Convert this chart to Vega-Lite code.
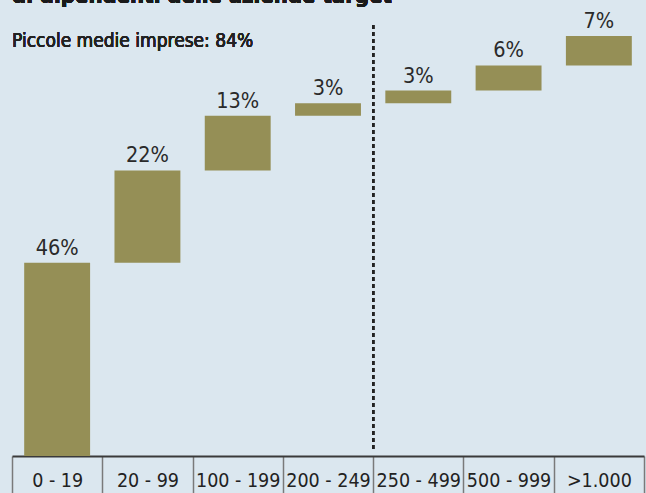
{
  "$schema": "https://vega.github.io/schema/vega-lite/v6.json",
  "autosize": "none",
  "width": 632,
  "height": 456,
  "padding": {"left": 12, "top": 0, "right": 2, "bottom": 37},
  "background": "#dbe7ef",
  "config": {
    "view": {"stroke": null},
    "font": "DejaVu Sans Condensed, sans-serif"
  },
  "data": {
    "values": [
      {"cat": "0 - 19", "start": 0, "end": 46, "label": "46%"},
      {"cat": "20 - 99", "start": 46, "end": 68, "label": "22%"},
      {"cat": "100 - 199", "start": 68, "end": 81, "label": "13%"},
      {"cat": "200 - 249", "start": 81, "end": 84, "label": "3%"},
      {"cat": "250 - 499", "start": 84, "end": 87, "label": "3%"},
      {"cat": "500 - 999", "start": 87, "end": 93, "label": "6%"},
      {"cat": ">1.000", "start": 93, "end": 100, "label": "7%"}
    ]
  },
  "encoding": {
    "x": {
      "field": "cat",
      "type": "nominal",
      "sort": null,
      "scale": {"paddingInner": 0, "paddingOuter": 0},
      "axis": {
        "title": null,
        "orient": "bottom",
        "domainColor": "#3a3a3a",
        "domainWidth": 2,
        "tickBand": "extent",
        "tickSize": 37,
        "tickColor": "#7a7a7a",
        "tickWidth": 1.5,
        "labelAngle": 0,
        "labelFontSize": 19.5,
        "labelColor": "#222222",
        "labelBaseline": "alphabetic",
        "labelPadding": -6.5
      }
    }
  },
  "layer": [
    {
      "mark": {"type": "bar", "color": "#958f56", "width": {"band": 0.73}},
      "encoding": {
        "y": {"field": "end", "type": "quantitative", "scale": {"domain": [0, 108.57], "nice": false, "zero": false}, "axis": null},
        "y2": {"field": "start"}
      }
    },
    {
      "mark": {"type": "text", "baseline": "alphabetic", "dy": -8, "fontSize": 21.5, "color": "#2a2a2a"},
      "encoding": {
        "y": {"field": "end", "type": "quantitative"},
        "text": {"field": "label"}
      }
    },
    {
      "mark": {"type": "rule", "strokeDash": [4, 3], "strokeWidth": 2.2, "color": "#222222"},
      "encoding": {
        "x": {"datum": "250 - 499", "bandPosition": 0},
        "y": {"datum": 102.6},
        "y2": {"datum": 1.4}
      }
    },
    {
      "mark": {"type": "text", "align": "left", "baseline": "alphabetic", "fontSize": 19, "color": "#222222"},
      "encoding": {
        "x": {"datum": "0 - 19", "bandPosition": 0},
        "y": {"datum": 97.4},
        "text": {"datum": "Piccole medie imprese: 84%"}
      }
    },
    {
      "mark": {"type": "text", "align": "left", "baseline": "alphabetic", "fontSize": 22, "fontWeight": "bold", "color": "#1a1a1a"},
      "encoding": {
        "x": {"datum": "0 - 19", "bandPosition": 0},
        "y": {"datum": 107.8},
        "text": {"datum": "di dipendenti delle aziende target"}
      }
    }
  ]
}
